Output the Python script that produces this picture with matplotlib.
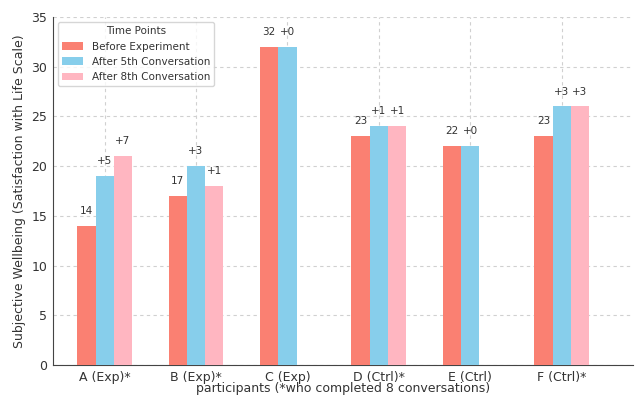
import matplotlib
matplotlib.use("Agg")
import matplotlib.pyplot as plt
import numpy as np

participants = ["A (Exp)*", "B (Exp)*", "C (Exp)", "D (Ctrl)*", "E (Ctrl)", "F (Ctrl)*"]
before = [14, 17, 32, 23, 22, 23]
after5 = [19, 20, 32, 24, 22, 26]
after8 = [21, 18, None, 24, None, 26]
series_names = ["Before Experiment", "After 5th Conversation", "After 8th Conversation"]
colors = ["#FA8072", "#87CEEB", "#FFB6C1"]

fig = plt.figure(figsize=(6.37, 3.96), dpi=100)
ax = fig.add_axes([53/637, 1-365/396, (633-53)/637, (365-17)/396])

x = np.arange(len(participants))
w = 0.2
txt_color = "#333333"

ax.bar(x - w, before, w, color=colors[0], label=series_names[0], zorder=3)
ax.bar(x, after5, w, color=colors[1], label=series_names[1], zorder=3)
x8 = [xi + w for xi, v in zip(x, after8) if v is not None]
v8 = [v for v in after8 if v is not None]
ax.bar(x8, v8, w, color=colors[2], label=series_names[2], zorder=3)

off = 1.0
fs_ann = 7.5
for i in range(len(participants)):
    ax.text(x[i] - w, before[i] + off, f"{before[i]}", ha="center", va="bottom", fontsize=fs_ann, color=txt_color)
    ax.text(x[i], after5[i] + off, f"+{after5[i]-before[i]}", ha="center", va="bottom", fontsize=fs_ann, color=txt_color)
    if after8[i] is not None:
        ax.text(x[i] + w, after8[i] + off, f"+{after8[i]-before[i]}", ha="center", va="bottom", fontsize=fs_ann, color=txt_color)

ax.set_xticks(x)
ax.set_xticklabels(participants, fontsize=9, color=txt_color)
ax.set_ylim(0, 35)
ax.set_yticks(range(0, 36, 5))
ax.tick_params(axis="y", labelsize=9, labelcolor=txt_color, length=0, pad=4)
ax.tick_params(axis="x", length=0, pad=4)
ax.set_xlabel("participants (*who completed 8 conversations)", fontsize=9, color=txt_color, labelpad=-1)
ax.set_ylabel("Subjective Wellbeing (Satisfaction with Life Scale)", fontsize=9, color=txt_color, labelpad=4)
ax.set_xlim(-0.565, 5.78)
ax.grid(True, linestyle=(0, (3, 3)), color="#d0d0d0", linewidth=0.8, zorder=0)
for s in ["top", "right"]:
    ax.spines[s].set_visible(False)
for s in ["left", "bottom"]:
    ax.spines[s].set_color("#444444")
leg = ax.legend(title="Time Points", loc="upper left", fontsize=7.5, title_fontsize=7.5, frameon=True,
                bbox_to_anchor=(0.0, 1.0))
leg.get_title().set_color(txt_color)
for t in leg.get_texts():
    t.set_color(txt_color)

fig.savefig("out.png", dpi=100)
